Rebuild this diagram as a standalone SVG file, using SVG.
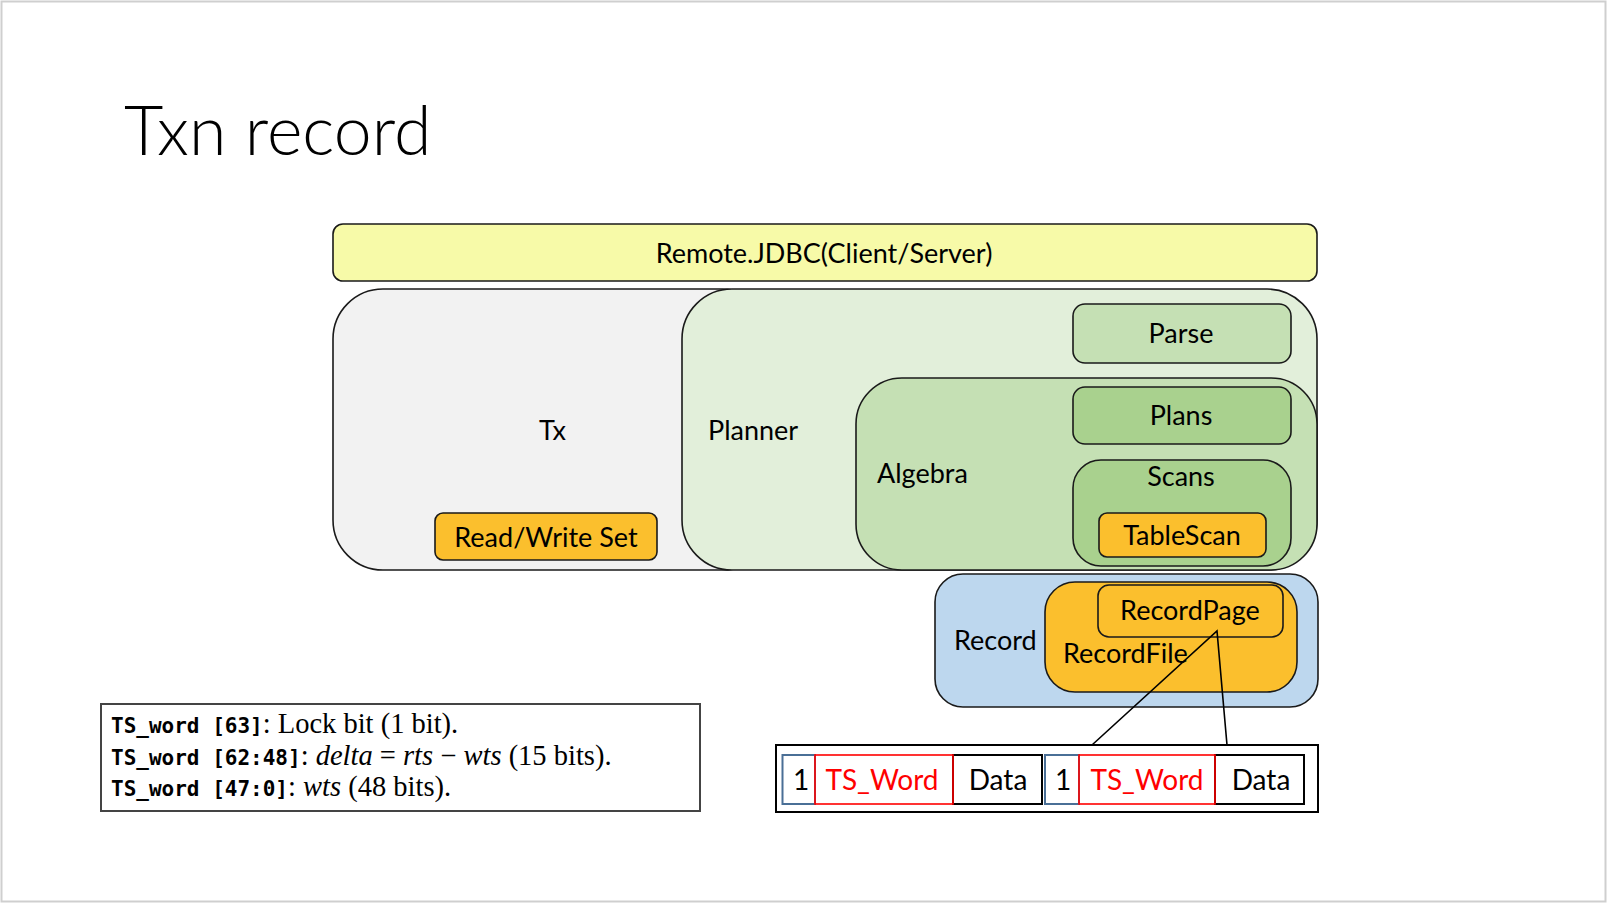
<svg xmlns="http://www.w3.org/2000/svg" width="1608" height="904" viewBox="0 0 1608 904">
<style>
.lbl{font-family:Lato,"Open Sans","Liberation Sans",sans-serif;font-size:27px;fill:#000}
.c{text-anchor:middle}
.box{stroke:#1a1a1a;stroke-width:1.6}
.org{fill:#FBBF2D}
.mono{font-family:"DejaVu Sans Mono","Liberation Mono",monospace;font-weight:bold;font-size:21px}
.ser{font-family:"Liberation Serif","DejaVu Serif",serif;font-size:28.5px}
.it{font-style:italic}
.conn{stroke:#000;stroke-width:1.6;fill:none}
.red{font-family:Lato,"Open Sans","Liberation Sans",sans-serif;font-size:28px;fill:#FF0000;text-anchor:middle}
.blk{font-family:Lato,"Open Sans","Liberation Sans",sans-serif;font-size:28px;fill:#000;text-anchor:middle}
</style>
<rect x="0" y="0" width="1608" height="904" fill="#ffffff"/>
<rect x="1.5" y="1.5" width="1604" height="900" fill="none" stroke="#cfcfcf" stroke-width="2"/>
<text x="124" y="155" font-family="Lato,'Open Sans','Liberation Sans',sans-serif" font-weight="300" font-size="68">Txn record</text>

<g id="remote">
<rect class="box" x="333" y="224" width="984" height="57" rx="10" fill="#F7FAA8"/>
<text class="lbl c" x="824" y="263">Remote.JDBC(Client/Server)</text>
</g>
<g id="tx">
<rect class="box" x="333" y="289" width="440" height="281" rx="50" fill="#F2F2F2"/>
<text class="lbl" x="539" y="440">Tx</text>
</g>
<g id="rwset">
<rect class="box org" x="435" y="513" width="222" height="47" rx="8"/>
<text class="lbl c" x="546" y="547">Read/Write Set</text>
</g>
<g id="planner">
<rect class="box" x="682" y="289" width="635" height="281" rx="50" fill="#E2EFDA"/>
<text class="lbl" x="708" y="440">Planner</text>
</g>
<g id="parse">
<rect class="box" x="1073" y="304" width="218" height="59" rx="12" fill="#C5E0B4"/>
<text class="lbl c" x="1181" y="343">Parse</text>
</g>
<g id="algebra">
<rect class="box" x="856" y="378" width="461" height="192" rx="46" fill="#C5E0B4"/>
<text class="lbl" x="877" y="483">Algebra</text>
</g>
<g id="plans">
<rect class="box" x="1073" y="387" width="218" height="57" rx="12" fill="#A9D18E"/>
<text class="lbl c" x="1181" y="425">Plans</text>
</g>
<g id="scans">
<rect class="box" x="1073" y="460" width="218" height="106" rx="28" fill="#A9D18E"/>
<text class="lbl c" x="1181" y="486">Scans</text>
</g>
<g id="tablescan">
<rect class="box org" x="1099" y="513" width="167" height="44" rx="8"/>
<text class="lbl c" x="1182" y="545">TableScan</text>
</g>
<g id="record">
<rect class="box" x="935" y="574" width="383" height="133" rx="28" fill="#BDD7EE"/>
<text class="lbl" x="954" y="650">Record</text>
</g>
<g id="recordfile">
<rect class="box org" x="1045" y="582" width="252" height="110" rx="30"/>
<text class="lbl" x="1063" y="663">RecordFile</text>
</g>
<g id="recordpage">
<rect class="box org" x="1098" y="585" width="185" height="52" rx="11"/>
<text class="lbl c" x="1190" y="620">RecordPage</text>
</g>

<g id="table">
<rect x="776" y="745" width="542" height="67" fill="#fff" stroke="#000" stroke-width="2"/>
<rect x="953" y="755" width="89" height="49" fill="none" stroke="#000" stroke-width="2"/>
<rect x="782.5" y="755" width="32.5" height="49" fill="none" stroke="#4A6F96" stroke-width="2"/>
<rect x="815" y="755" width="138" height="49" fill="none" stroke="#FF0000" stroke-width="1.6"/>
<rect x="1215" y="755" width="89" height="49" fill="none" stroke="#000" stroke-width="2"/>
<rect x="1045" y="755" width="34" height="49" fill="none" stroke="#4A6F96" stroke-width="2"/>
<rect x="1079" y="755" width="136" height="49" fill="none" stroke="#FF0000" stroke-width="1.6"/>
<text class="blk" x="801" y="790">1</text>
<text class="red" x="882" y="790">TS_Word</text>
<text class="blk" x="998" y="790">Data</text>
<text class="blk" x="1063" y="790">1</text>
<text class="red" x="1147" y="790">TS_Word</text>
<text class="blk" x="1261" y="790">Data</text>
</g>

<g id="connectors">
<polyline class="conn" points="1092,745 1217,631 1227,745"/>
</g>

<g id="legend">
<rect x="101" y="704" width="599" height="107" fill="#fff" stroke="#444" stroke-width="2"/>
<text x="111" y="733"><tspan class="mono">TS_word [63]</tspan><tspan class="ser">: Lock bit (1 bit).</tspan></text>
<text x="111" y="765"><tspan class="mono">TS_word [62:48]</tspan><tspan class="ser">: </tspan><tspan class="ser it">delta</tspan><tspan class="ser"> = </tspan><tspan class="ser it">rts</tspan><tspan class="ser"> − </tspan><tspan class="ser it">wts</tspan><tspan class="ser"> (15 bits).</tspan></text>
<text x="111" y="796"><tspan class="mono">TS_word [47:0]</tspan><tspan class="ser">: </tspan><tspan class="ser it">wts</tspan><tspan class="ser"> (48 bits).</tspan></text>
</g>
</svg>
